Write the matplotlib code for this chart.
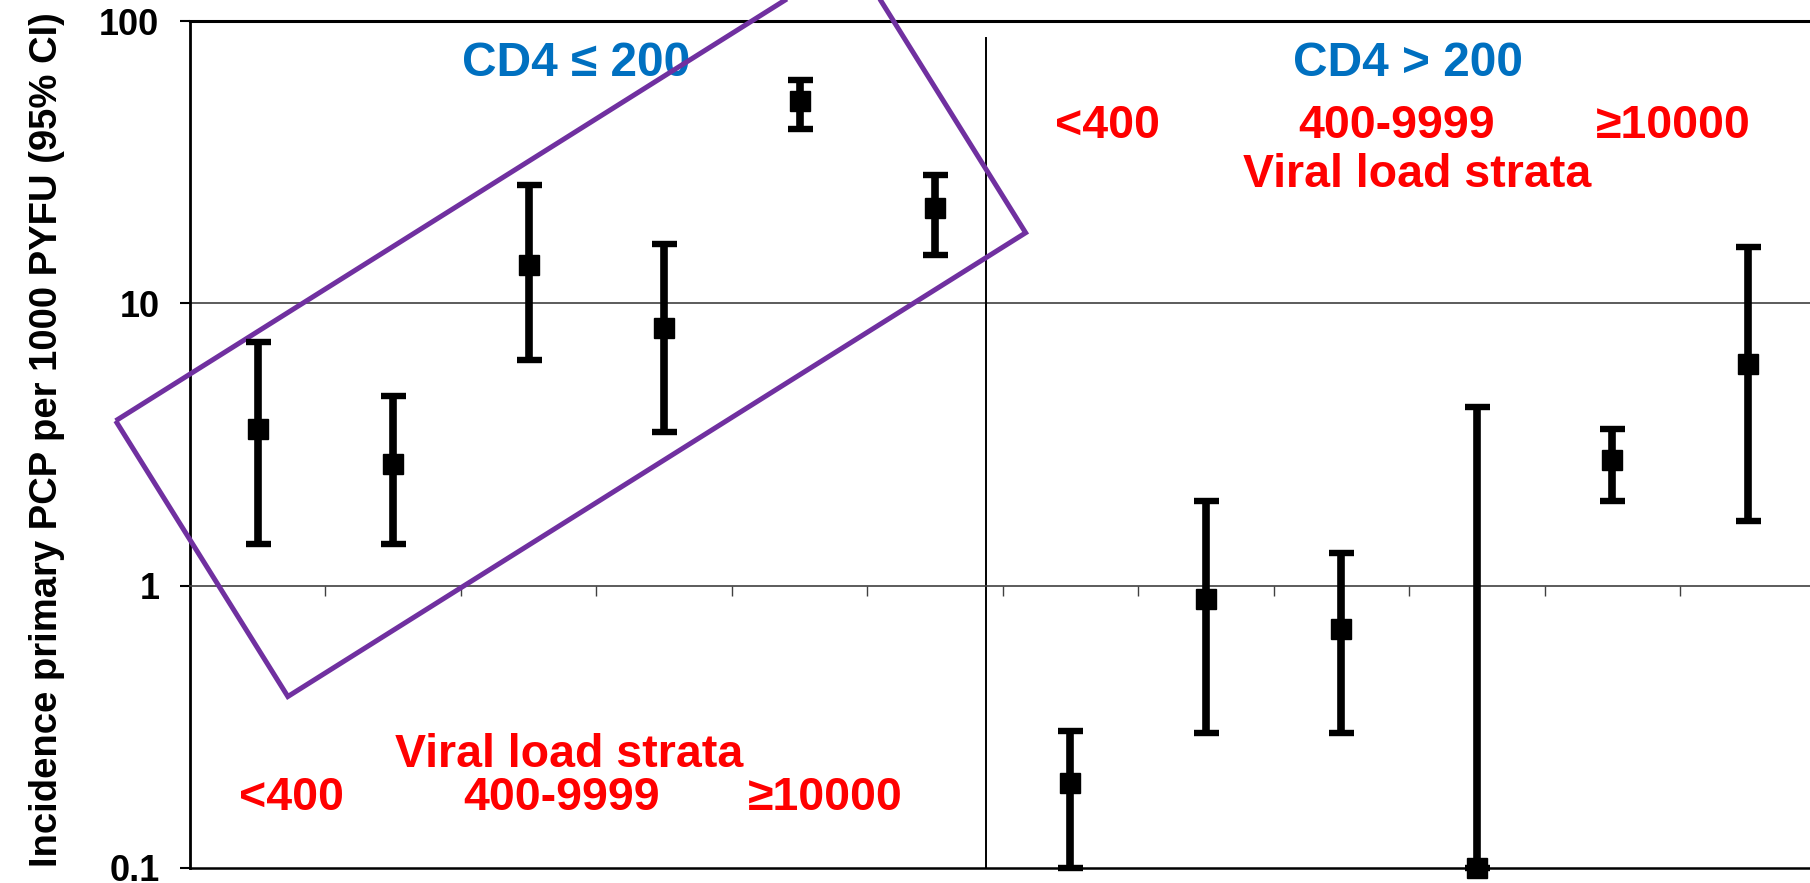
import matplotlib.pyplot as plt
from matplotlib.patches import Polygon
import numpy as np

plt.rcParams['font.family'] = ['Liberation Sans', 'DejaVu Sans']
plt.rcParams['font.weight'] = 'bold'

# 12 strata: first 6 with CD4 <= 200, last 6 with CD4 > 200
incidence = [3.6, 2.7, 13.7, 8.2, 52, 21.7, 0.20, 0.90, 0.70, 0.10, 2.8, 6.1]
ci_low = [1.4, 1.4, 6.3, 3.5, 41.5, 14.9, 0.10, 0.30, 0.30, 0.10, 2.0, 1.7]
ci_high = [7.3, 4.7, 26.2, 16.2, 61.7, 28.5, 0.305, 2.0, 1.31, 4.3, 3.6, 15.9]
y_ticks = [0.1, 1, 10, 100]
y_tick_labels = ['0.1', '1', '10', '100']
vl_strata = ['<400', '400-9999', '\u226510000']
cd4_groups = ['CD4 \u2264 200', 'CD4 > 200']
y_title = 'Incidence primary PCP per 1000 PYFU (95% CI)'

RED = '#FF0000'
BLUE = '#0070C0'
PURPLE = '#7030A0'


def main():
    fig = plt.figure(figsize=(18.1, 8.83), dpi=100)
    ax = fig.add_axes([0.105, 0.017, 0.898, 0.959])

    x = np.arange(len(incidence))
    inc = np.array(incidence)
    yerr = [inc - np.array(ci_low), np.array(ci_high) - inc]
    ax.errorbar(x, inc, yerr=yerr, fmt='s', color='black', ms=14,
                elinewidth=5.5, capsize=9, capthick=4.6, clip_on=False, zorder=5)

    ax.set_yscale('log')
    ax.set_ylim(0.1, 100)
    ax.set_xlim(-0.5, 11.5)

    # 轴线
    ax.spines['right'].set_visible(False)
    ax.spines['top'].set_linewidth(2.2)
    ax.spines['left'].set_linewidth(2)
    ax.spines['bottom'].set_position(('data', 1))
    ax.spines['bottom'].set_color('#404040')
    ax.spines['bottom'].set_linewidth(1.2)
    ax.axhline(0.1, color='black', lw=1.8, clip_on=False)
    ax.axhline(10, color='#404040', lw=1.2)

    ax.set_xticks(np.arange(0.5, 11, 1))
    ax.set_xticklabels([])
    ax.tick_params(axis='x', direction='out', length=7, width=1, color='#404040')
    ax.set_yticks(y_ticks)
    ax.set_yticklabels(y_tick_labels)
    ax.yaxis.set_minor_locator(plt.NullLocator())
    ax.tick_params(axis='y', direction='out', length=7, width=1.5, pad=15, labelsize=26)

    fig.text(0.026, 0.502, y_title, rotation=90, ha='center', va='center', fontsize=27.5)

    # divider between CD4 groups
    ax.plot([5.38, 5.38], [87.4, 0.1], color='black', lw=1.4)

    # group headings
    ax.text(2.35, 71, cd4_groups[0], color=BLUE, fontsize=34.5, ha='center', va='center')
    ax.text(8.49, 71, cd4_groups[1], color=BLUE, fontsize=34.5, ha='center', va='center')

    for xs, s in zip([6.27, 8.41, 10.45], vl_strata):
        ax.text(xs, 42.4, s, color=RED, fontsize=33.5, ha='center', va='center')
    ax.text(8.56, 28.5, 'Viral load strata', color=RED, fontsize=33.5, ha='center', va='center')

    for xs, s in zip([0.247, 2.24, 4.19], vl_strata):
        ax.text(xs, 0.177, s, color=RED, fontsize=33.5, ha='center', va='center')
    ax.text(2.30, 0.251, 'Viral load strata', color=RED, fontsize=33.5, ha='center', va='center')

    # highlight box around the low CD4 strata
    box = [(-1.049, 3.84), (0.222, 0.405), (5.669, 17.8), (4.399, 168.8)]
    ax.add_patch(Polygon(box, closed=True, fill=False, edgecolor=PURPLE, lw=3.6,
                         clip_on=False, zorder=4))

    fig.savefig('out.png', dpi=100)


if __name__ == '__main__':
    main()
